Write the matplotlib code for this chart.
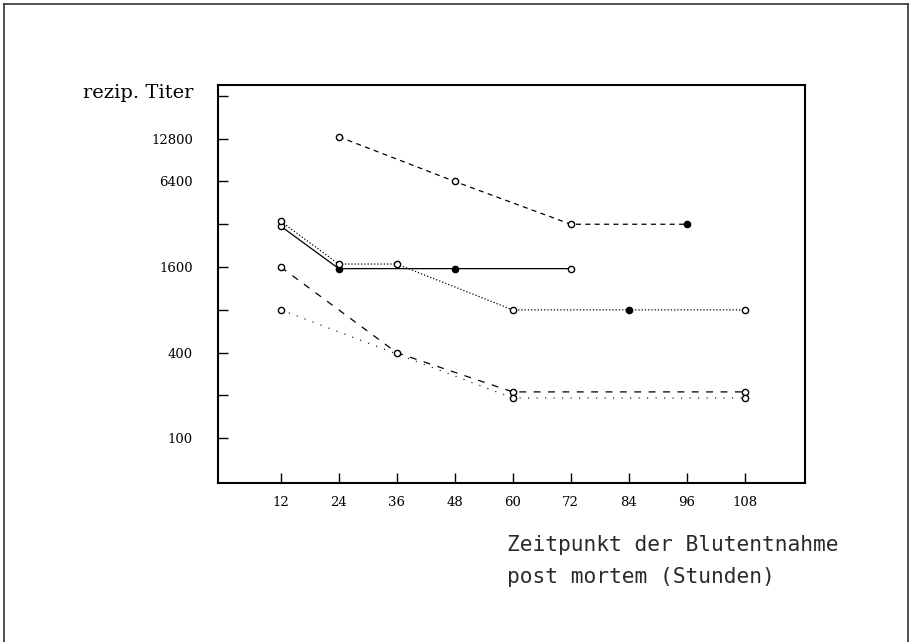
import matplotlib
matplotlib.use("Agg")
import matplotlib.pyplot as plt
from matplotlib.lines import Line2D
from matplotlib.ticker import FixedLocator, NullLocator, FixedFormatter

# ---- data ----
hours = [12, 24, 36, 48, 60, 72, 84, 96, 108]
y_ticks = [100, 200, 400, 800, 1600, 3200, 6400, 12800, 25600]
y_labels = ["100", "", "400", "", "1600", "", "6400", "12800", ""]

a_x = [24, 48, 72, 96]
a_y = [13200, 6400, 3200, 3200]
a_filled = [False, False, False, True]

b_x = [12, 24, 48, 72]
b_y = [3100, 1560, 1560, 1560]
b_filled = [False, True, True, False]

c_x = [12, 24, 36, 60, 84, 108]
c_y = [3350, 1680, 1680, 800, 800, 800]
c_filled = [False, False, False, False, True, False]

d_x = [12, 36, 60, 108]
d_y = [1600, 400, 212, 212]
d_filled = [False, False, False, False]

e_x = [12, 60, 108]
e_y = [800, 192, 192]
e_filled = [False, False, False]

ylabel_text = "rezip. Titer"
xlabel_lines = ["Zeitpunkt der Blutentnahme", "post mortem (Stunden)"]

W, H = 911, 642
fig = plt.figure(figsize=(W / 100, H / 100), dpi=100)
ax = fig.add_axes([218 / W, 1 - 483 / H, (805 - 218) / W, (483 - 85) / H])
ax.set_yscale("log", base=2)
ax.set_xlim(-1, 120.5)
ax.set_ylim(48.5, 30500)

def series(xs, ys, filled, ls, lw=0.9):
    ax.plot(xs, ys, color="black", lw=lw, linestyle=ls, zorder=2)
    for x, y, f in zip(xs, ys, filled):
        ax.plot([x], [y], marker="o", ms=4.5, mew=1.0, mec="black",
                mfc="black" if f else "white", linestyle="none", zorder=3)

series(a_x, a_y, a_filled, (0, (4, 3.5)))
series(b_x, b_y, b_filled, "-")
series(c_x, c_y, c_filled, (0, (1, 1.6)))
series(d_x, d_y, d_filled, (0, (5.5, 6)))
series(e_x, e_y, e_filled, (0, (0.8, 6)))

serif = ["DejaVu Serif"]
ax.yaxis.set_major_locator(FixedLocator(y_ticks))
ax.yaxis.set_major_formatter(FixedFormatter(y_labels))
ax.yaxis.set_minor_locator(NullLocator())
ax.xaxis.set_major_locator(FixedLocator(hours))
ax.xaxis.set_major_formatter(FixedFormatter([str(h) for h in hours]))
ax.tick_params(axis="y", direction="in", length=7, width=1.0, pad=18,
               labelsize=9.5, left=True, right=False)
ax.tick_params(axis="x", direction="in", length=7, width=1.0, pad=9,
               labelsize=9.5, bottom=True, top=False)
for lab in ax.get_xticklabels() + ax.get_yticklabels():
    lab.set_family(serif)

for s in ax.spines.values():
    s.set_linewidth(1.5)
    s.set_color("black")

fig.text(193 / W, 1 - 93 / H, ylabel_text, ha="right", va="center",
         family=serif, fontsize=14)

fig.text(507 / W, 1 - 545 / H, xlabel_lines[0], ha="left", va="center",
         family=["DejaVu Sans Mono"], fontsize=15.3, color="#2a2a2a")
fig.text(507 / W, 1 - 577 / H, xlabel_lines[1], ha="left", va="center",
         family=["DejaVu Sans Mono"], fontsize=15.3, color="#2a2a2a")

# page frame
fx0, fx1, fy1 = 4 / W, 908 / W, 1 - 4 / H
fig.add_artist(Line2D([fx0, fx1], [fy1, fy1], transform=fig.transFigure,
                      color="#333333", lw=1.2))
fig.add_artist(Line2D([fx0, fx0], [0, fy1], transform=fig.transFigure,
                      color="#333333", lw=1.2))
fig.add_artist(Line2D([fx1, fx1], [0, fy1], transform=fig.transFigure,
                      color="#333333", lw=1.2))

fig.savefig("out.png", dpi=100, facecolor="white")
